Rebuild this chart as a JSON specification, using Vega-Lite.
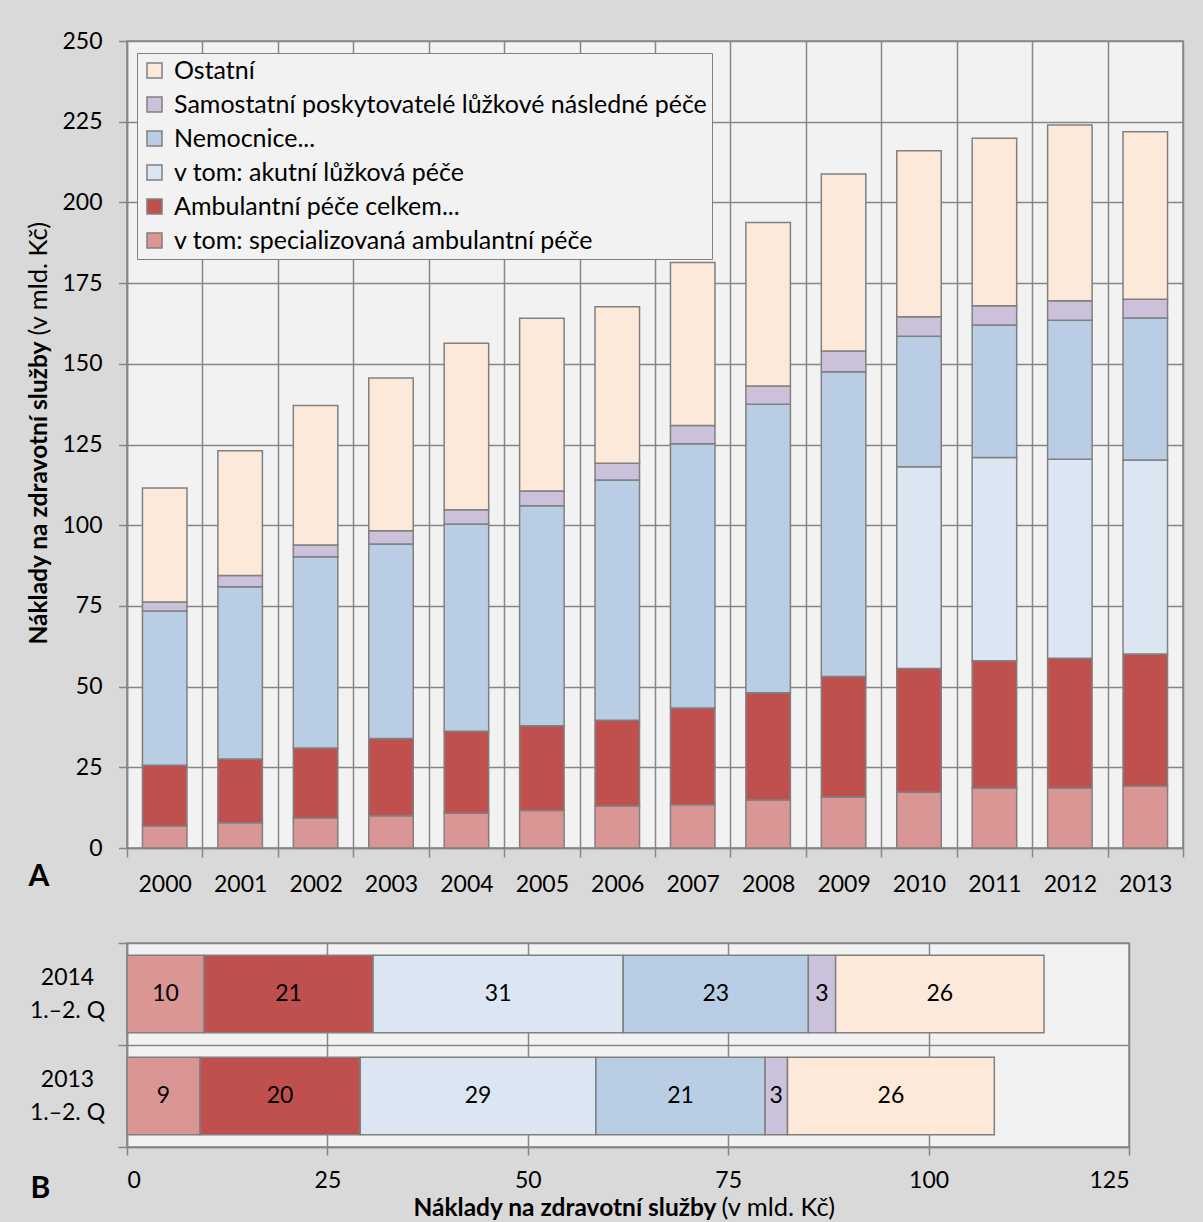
{
  "$schema": "https://vega.github.io/schema/vega-lite/v6.json",
  "background": "#d9d9d9",
  "padding": {"left": 25, "top": 29, "right": 20, "bottom": 2},
  "datasets": {
    "a": [
      {"rok": "2000", "kategorie": "v tom: specializovaná ambulantní péče", "hodnota": 6.8, "poradi": 1},
      {"rok": "2000", "kategorie": "Ambulantní péče celkem...", "hodnota": 18.8, "poradi": 2},
      {"rok": "2000", "kategorie": "Nemocnice...", "hodnota": 47.8, "poradi": 4},
      {"rok": "2000", "kategorie": "Samostatní poskytovatelé lůžkové následné péče", "hodnota": 2.8, "poradi": 5},
      {"rok": "2000", "kategorie": "Ostatní", "hodnota": 35.3, "poradi": 6},
      {"rok": "2001", "kategorie": "v tom: specializovaná ambulantní péče", "hodnota": 7.8, "poradi": 1},
      {"rok": "2001", "kategorie": "Ambulantní péče celkem...", "hodnota": 19.8, "poradi": 2},
      {"rok": "2001", "kategorie": "Nemocnice...", "hodnota": 53.3, "poradi": 4},
      {"rok": "2001", "kategorie": "Samostatní poskytovatelé lůžkové následné péče", "hodnota": 3.5, "poradi": 5},
      {"rok": "2001", "kategorie": "Ostatní", "hodnota": 38.7, "poradi": 6},
      {"rok": "2002", "kategorie": "v tom: specializovaná ambulantní péče", "hodnota": 9.3, "poradi": 1},
      {"rok": "2002", "kategorie": "Ambulantní péče celkem...", "hodnota": 21.7, "poradi": 2},
      {"rok": "2002", "kategorie": "Nemocnice...", "hodnota": 59.2, "poradi": 4},
      {"rok": "2002", "kategorie": "Samostatní poskytovatelé lůžkové následné péče", "hodnota": 3.7, "poradi": 5},
      {"rok": "2002", "kategorie": "Ostatní", "hodnota": 43.2, "poradi": 6},
      {"rok": "2003", "kategorie": "v tom: specializovaná ambulantní péče", "hodnota": 10.0, "poradi": 1},
      {"rok": "2003", "kategorie": "Ambulantní péče celkem...", "hodnota": 23.9, "poradi": 2},
      {"rok": "2003", "kategorie": "Nemocnice...", "hodnota": 60.3, "poradi": 4},
      {"rok": "2003", "kategorie": "Samostatní poskytovatelé lůžkové následné péče", "hodnota": 4.1, "poradi": 5},
      {"rok": "2003", "kategorie": "Ostatní", "hodnota": 47.3, "poradi": 6},
      {"rok": "2004", "kategorie": "v tom: specializovaná ambulantní péče", "hodnota": 10.8, "poradi": 1},
      {"rok": "2004", "kategorie": "Ambulantní péče celkem...", "hodnota": 25.4, "poradi": 2},
      {"rok": "2004", "kategorie": "Nemocnice...", "hodnota": 64.2, "poradi": 4},
      {"rok": "2004", "kategorie": "Samostatní poskytovatelé lůžkové následné péče", "hodnota": 4.4, "poradi": 5},
      {"rok": "2004", "kategorie": "Ostatní", "hodnota": 51.6, "poradi": 6},
      {"rok": "2005", "kategorie": "v tom: specializovaná ambulantní péče", "hodnota": 11.6, "poradi": 1},
      {"rok": "2005", "kategorie": "Ambulantní péče celkem...", "hodnota": 26.3, "poradi": 2},
      {"rok": "2005", "kategorie": "Nemocnice...", "hodnota": 68.1, "poradi": 4},
      {"rok": "2005", "kategorie": "Samostatní poskytovatelé lůžkové následné péče", "hodnota": 4.6, "poradi": 5},
      {"rok": "2005", "kategorie": "Ostatní", "hodnota": 53.5, "poradi": 6},
      {"rok": "2006", "kategorie": "v tom: specializovaná ambulantní péče", "hodnota": 13.0, "poradi": 1},
      {"rok": "2006", "kategorie": "Ambulantní péče celkem...", "hodnota": 26.6, "poradi": 2},
      {"rok": "2006", "kategorie": "Nemocnice...", "hodnota": 74.4, "poradi": 4},
      {"rok": "2006", "kategorie": "Samostatní poskytovatelé lůžkové následné péče", "hodnota": 5.2, "poradi": 5},
      {"rok": "2006", "kategorie": "Ostatní", "hodnota": 48.5, "poradi": 6},
      {"rok": "2007", "kategorie": "v tom: specializovaná ambulantní péče", "hodnota": 13.4, "poradi": 1},
      {"rok": "2007", "kategorie": "Ambulantní péče celkem...", "hodnota": 30.0, "poradi": 2},
      {"rok": "2007", "kategorie": "Nemocnice...", "hodnota": 81.8, "poradi": 4},
      {"rok": "2007", "kategorie": "Samostatní poskytovatelé lůžkové následné péče", "hodnota": 5.7, "poradi": 5},
      {"rok": "2007", "kategorie": "Ostatní", "hodnota": 50.5, "poradi": 6},
      {"rok": "2008", "kategorie": "v tom: specializovaná ambulantní péče", "hodnota": 14.9, "poradi": 1},
      {"rok": "2008", "kategorie": "Ambulantní péče celkem...", "hodnota": 33.2, "poradi": 2},
      {"rok": "2008", "kategorie": "Nemocnice...", "hodnota": 89.4, "poradi": 4},
      {"rok": "2008", "kategorie": "Samostatní poskytovatelé lůžkové následné péče", "hodnota": 5.6, "poradi": 5},
      {"rok": "2008", "kategorie": "Ostatní", "hodnota": 50.7, "poradi": 6},
      {"rok": "2009", "kategorie": "v tom: specializovaná ambulantní péče", "hodnota": 15.8, "poradi": 1},
      {"rok": "2009", "kategorie": "Ambulantní péče celkem...", "hodnota": 37.3, "poradi": 2},
      {"rok": "2009", "kategorie": "Nemocnice...", "hodnota": 94.4, "poradi": 4},
      {"rok": "2009", "kategorie": "Samostatní poskytovatelé lůžkové následné péče", "hodnota": 6.5, "poradi": 5},
      {"rok": "2009", "kategorie": "Ostatní", "hodnota": 54.8, "poradi": 6},
      {"rok": "2010", "kategorie": "v tom: specializovaná ambulantní péče", "hodnota": 17.3, "poradi": 1},
      {"rok": "2010", "kategorie": "Ambulantní péče celkem...", "hodnota": 38.3, "poradi": 2},
      {"rok": "2010", "kategorie": "v tom: akutní lůžková péče", "hodnota": 62.5, "poradi": 3},
      {"rok": "2010", "kategorie": "Nemocnice...", "hodnota": 40.4, "poradi": 4},
      {"rok": "2010", "kategorie": "Samostatní poskytovatelé lůžkové následné péče", "hodnota": 6.1, "poradi": 5},
      {"rok": "2010", "kategorie": "Ostatní", "hodnota": 51.4, "poradi": 6},
      {"rok": "2011", "kategorie": "v tom: specializovaná ambulantní péče", "hodnota": 18.6, "poradi": 1},
      {"rok": "2011", "kategorie": "Ambulantní péče celkem...", "hodnota": 39.4, "poradi": 2},
      {"rok": "2011", "kategorie": "v tom: akutní lůžková péče", "hodnota": 63.0, "poradi": 3},
      {"rok": "2011", "kategorie": "Nemocnice...", "hodnota": 41.0, "poradi": 4},
      {"rok": "2011", "kategorie": "Samostatní poskytovatelé lůžkové následné péče", "hodnota": 6.0, "poradi": 5},
      {"rok": "2011", "kategorie": "Ostatní", "hodnota": 51.9, "poradi": 6},
      {"rok": "2012", "kategorie": "v tom: specializovaná ambulantní péče", "hodnota": 18.6, "poradi": 1},
      {"rok": "2012", "kategorie": "Ambulantní péče celkem...", "hodnota": 40.2, "poradi": 2},
      {"rok": "2012", "kategorie": "v tom: akutní lůžková péče", "hodnota": 61.6, "poradi": 3},
      {"rok": "2012", "kategorie": "Nemocnice...", "hodnota": 43.1, "poradi": 4},
      {"rok": "2012", "kategorie": "Samostatní poskytovatelé lůžkové následné péče", "hodnota": 6.0, "poradi": 5},
      {"rok": "2012", "kategorie": "Ostatní", "hodnota": 54.5, "poradi": 6},
      {"rok": "2013", "kategorie": "v tom: specializovaná ambulantní péče", "hodnota": 19.2, "poradi": 1},
      {"rok": "2013", "kategorie": "Ambulantní péče celkem...", "hodnota": 40.9, "poradi": 2},
      {"rok": "2013", "kategorie": "v tom: akutní lůžková péče", "hodnota": 60.1, "poradi": 3},
      {"rok": "2013", "kategorie": "Nemocnice...", "hodnota": 44.0, "poradi": 4},
      {"rok": "2013", "kategorie": "Samostatní poskytovatelé lůžkové následné péče", "hodnota": 5.8, "poradi": 5},
      {"rok": "2013", "kategorie": "Ostatní", "hodnota": 51.9, "poradi": 6}
    ],
    "b": [
      {"obdobi": "2014 1.–2. Q", "kategorie": "v tom: specializovaná ambulantní péče", "hodnota": 9.6, "poradi": 1},
      {"obdobi": "2014 1.–2. Q", "kategorie": "Ambulantní péče celkem...", "hodnota": 21.1, "poradi": 2},
      {"obdobi": "2014 1.–2. Q", "kategorie": "v tom: akutní lůžková péče", "hodnota": 31.2, "poradi": 3},
      {"obdobi": "2014 1.–2. Q", "kategorie": "Nemocnice...", "hodnota": 23.1, "poradi": 4},
      {"obdobi": "2014 1.–2. Q", "kategorie": "Samostatní poskytovatelé lůžkové následné péče", "hodnota": 3.4, "poradi": 5},
      {"obdobi": "2014 1.–2. Q", "kategorie": "Ostatní", "hodnota": 26.0, "poradi": 6},
      {"obdobi": "2013 1.–2. Q", "kategorie": "v tom: specializovaná ambulantní péče", "hodnota": 9.1, "poradi": 1},
      {"obdobi": "2013 1.–2. Q", "kategorie": "Ambulantní péče celkem...", "hodnota": 20.0, "poradi": 2},
      {"obdobi": "2013 1.–2. Q", "kategorie": "v tom: akutní lůžková péče", "hodnota": 29.4, "poradi": 3},
      {"obdobi": "2013 1.–2. Q", "kategorie": "Nemocnice...", "hodnota": 21.1, "poradi": 4},
      {"obdobi": "2013 1.–2. Q", "kategorie": "Samostatní poskytovatelé lůžkové následné péče", "hodnota": 2.8, "poradi": 5},
      {"obdobi": "2013 1.–2. Q", "kategorie": "Ostatní", "hodnota": 25.8, "poradi": 6}
    ]
  },
  "columns": 1,
  "align": "none",
  "spacing": 34,
  "resolve": {"scale": {"color": "independent"}},
  "concat": [
    {
      "width": 1056,
      "height": 807,
      "data": {"name": "a"},
      "layer": [
        {
          "mark": {"type": "bar", "stroke": "#808080", "strokeWidth": 1.5, "width": {"band": 0.59}},
          "encoding": {
            "x": {
              "field": "rok", "type": "ordinal",
              "scale": {"paddingInner": 0, "paddingOuter": 0},
              "axis": {
                "title": "A", "titleFontSize": 30, "titleFontWeight": "bold",
                "titleX": -99, "titleY": 37, "titleAlign": "left", "titleBaseline": "alphabetic", "titleAngle": 0,
                "labelAngle": 0, "grid": true, "tickBand": "extent", "tickSize": 9, "labelPadding": 16
              }
            },
            "y": {
              "field": "hodnota", "type": "quantitative", "stack": "zero",
              "scale": {"domain": [0, 250], "nice": false},
              "axis": {
                "title": "Náklady na zdravotní služby", "titleFontWeight": "bold", "titleFontSize": 24.5,
                "titleAngle": 270, "titleAlign": "right", "titleBaseline": "alphabetic",
                "titleX": -81, "titleY": 300,
                "values": [0, 25, 50, 75, 100, 125, 150, 175, 200, 225, 250],
                "format": "d", "grid": true, "tickSize": 8.5, "labelPadding": 16.5
              }
            },
            "color": {
              "field": "kategorie", "type": "nominal",
              "scale": {
                "domain": ["Ostatní", "Samostatní poskytovatelé lůžkové následné péče", "Nemocnice...", "v tom: akutní lůžková péče", "Ambulantní péče celkem...", "v tom: specializovaná ambulantní péče"],
                "range": ["#fde9d9", "#ccc1da", "#b9cde5", "#dce6f2", "#c0504d", "#d99694"]
              },
              "legend": {
                "title": null, "orient": "none", "legendX": 10, "legendY": 12,
                "fillColor": "#f2f2f2", "strokeColor": "#808080", "padding": 5,
                "symbolType": "square", "symbolSize": 225, "symbolStrokeColor": "#808080", "symbolStrokeWidth": 1.5,
                "labelFontSize": 25, "labelOffset": 7, "rowPadding": 8, "labelLimit": 800, "labelColor": "#000000"
              }
            },
            "order": {"field": "poradi", "type": "quantitative"}
          }
        },
        {
          "data": {"values": []},
          "mark": {"type": "rule"},
          "encoding": {
            "y": {
              "field": "hodnota", "type": "quantitative",
              "scale": {"domain": [0, 250], "nice": false},
              "axis": {
                "orient": "left", "title": "(v mld. Kč)", "titleFontWeight": "normal", "titleFontSize": 25.5,
                "titleAngle": 270, "titleAlign": "left", "titleBaseline": "alphabetic",
                "titleX": -81, "titleY": 294,
                "labels": false, "ticks": false, "domain": false, "grid": false
              }
            }
          }
        }
      ],
      "resolve": {"axis": {"y": "independent"}}
    },
    {
      "width": 1002,
      "height": 204,
      "data": {"name": "b"},
      "layer": [
        {
          "mark": {"type": "bar", "stroke": "#808080", "strokeWidth": 1.5, "height": {"band": 0.76}},
          "encoding": {
            "y": {
              "field": "obdobi", "type": "nominal",
              "sort": ["2014 1.–2. Q", "2013 1.–2. Q"],
              "scale": {"paddingInner": 0, "paddingOuter": 0},
              "axis": {
                "title": "B", "titleFontSize": 30, "titleFontWeight": "bold",
                "titleAngle": 0, "titleX": -97, "titleY": 254, "titleAlign": "left", "titleBaseline": "alphabetic",
                "labelExpr": "[slice(datum.label, 0, 4), slice(datum.label, 5)]",
                "labelAlign": "center", "labelPadding": 51, "labelLineHeight": 33, "labelOffset": -16.5,
                "grid": true, "tickBand": "extent", "tickSize": 9
              }
            },
            "x": {
              "field": "hodnota", "type": "quantitative", "stack": "zero",
              "scale": {"domain": [0, 125], "nice": false},
              "axis": {
                "title": "Náklady na zdravotní služby", "titleFontWeight": "bold", "titleFontSize": 24.5,
                "titleAlign": "right", "titleBaseline": "alphabetic", "titleX": 589, "titleY": 68,
                "values": [0, 25, 50, 75, 100, 125], "format": "d",
                "grid": true, "tickSize": 8, "labelPadding": 14
              }
            },
            "color": {
              "field": "kategorie", "type": "nominal",
              "scale": {
                "domain": ["Ostatní", "Samostatní poskytovatelé lůžkové následné péče", "Nemocnice...", "v tom: akutní lůžková péče", "Ambulantní péče celkem...", "v tom: specializovaná ambulantní péče"],
                "range": ["#fde9d9", "#ccc1da", "#b9cde5", "#dce6f2", "#c0504d", "#d99694"]
              },
              "legend": null
            },
            "order": {"field": "poradi", "type": "quantitative"}
          }
        },
        {
          "mark": {"type": "text", "fontSize": 23, "color": "#000000"},
          "encoding": {
            "y": {"field": "obdobi", "type": "nominal", "sort": ["2014 1.–2. Q", "2013 1.–2. Q"]},
            "x": {"field": "hodnota", "type": "quantitative", "stack": "zero", "bandPosition": 0.5, "scale": {"domain": [0, 125], "nice": false}, "axis": null},
            "text": {"field": "hodnota", "type": "quantitative", "format": ".0f"},
            "order": {"field": "poradi", "type": "quantitative"}
          }
        },
        {
          "data": {"values": []},
          "mark": {"type": "rule"},
          "encoding": {
            "x": {
              "field": "hodnota", "type": "quantitative",
              "scale": {"domain": [0, 125], "nice": false},
              "axis": {
                "orient": "bottom", "title": "(v mld. Kč)", "titleFontWeight": "normal", "titleFontSize": 25.5,
                "titleAlign": "left", "titleBaseline": "alphabetic", "titleX": 594, "titleY": 68,
                "labels": false, "ticks": false, "domain": false, "grid": false
              }
            }
          }
        }
      ],
      "resolve": {"axis": {"x": "independent"}}
    }
  ],
  "config": {
    "font": "Lato",
    "view": {"fill": "#f2f2f2", "stroke": "#868686", "strokeWidth": 1.5},
    "axis": {
      "labelFont": "Lato", "labelFontSize": 23, "labelColor": "#000000",
      "titleFont": "Lato", "titleFontSize": 26, "titleColor": "#000000",
      "gridColor": "#868686", "gridWidth": 1.5, "gridOpacity": 1,
      "tickColor": "#868686", "tickWidth": 1.5,
      "domainColor": "#868686", "domainWidth": 1.5
    },
    "legend": {"labelFont": "Lato"}
  }
}
